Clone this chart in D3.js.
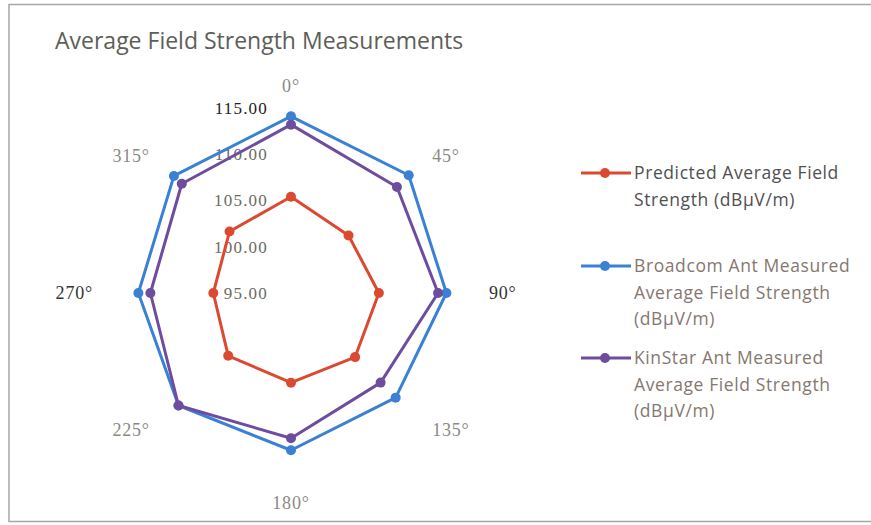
<!DOCTYPE html>
<html><head><meta charset="utf-8">
<script src="https://cdn.jsdelivr.net/npm/d3@7"></script>
<style>body{margin:0;background:#fff;}svg{display:block;}</style>
</head><body>
<svg id="c" width="871" height="525"></svg>
<script>
const angles = ["0°","45°","90°","135°","180°","225°","270°","315°"];
const tickValues = [95,100,105,110,115];
const tickLabels = ["95.00","100.00","105.00","110.00","115.00"];
const seriesNames = [
  ["Predicted Average Field","Strength (dBµV/m)"],
  ["Broadcom Ant Measured","Average Field Strength","(dBµV/m)"],
  ["KinStar Ant Measured","Average Field Strength","(dBµV/m)"]
];
const predicted = [105.4,103.8,104.5,104.8,104.7,104.6,103.4,104.4];
const broadcom  = [114.1,113.0,111.8,111.0,112.0,112.2,111.5,112.9];
const kinstar   = [113.2,111.2,110.9,108.7,110.7,112.2,110.2,111.7];
const colors = ["#db4a30","#3a80d4","#6e4c9e"];

const svg = d3.select("#c");
svg.append("rect").attr("x",9).attr("y",4.5).attr("width",880).attr("height",517)
  .attr("fill","#fff").attr("stroke","#a6a6a6").attr("stroke-width",1.5);

svg.append("text").attr("x",55).attr("y",49).text("Average Field Strength Measurements")
  .attr("font-family","Open Sans, sans-serif").attr("font-size",23)
  .attr("fill","#5e5e58");

const cx = 291, cy = 293;
const r = d3.scaleLinear().domain([95,115]).range([0,185]);
const ang = d3.scalePoint().domain(angles).range([0, 2*Math.PI*7/8]);

const g = svg.append("g").attr("transform",`translate(${cx},${cy})`);

tickValues.forEach((v,i)=>{
  g.append("text").attr("x",-23).attr("y",-r(v)).attr("dy","0.35em")
   .attr("text-anchor","end").text(tickLabels[i])
   .attr("font-family","Liberation Serif, serif").attr("font-size",17)
   .attr("letter-spacing",1.2)
   .attr("fill", v===115 ? "#222" : "#6b6b62");
});

angles.forEach(a=>{
  const t = ang(a);
  const s = Math.sin(t), c = Math.cos(t);
  const R = 194;
  let x = R*s, y = -R*c;
  let anchor = "middle";
  if (s > 0.01) { anchor = "start"; x += 4; }
  else if (s < -0.01) { anchor = "end"; x -= 4; }
  if (c > 0.99) y -= 13;
  if (c < -0.99) y += 16;
  const dark = (a==="90°"||a==="270°");
  g.append("text").attr("x",x).attr("y",y).attr("dy","0.35em")
   .attr("text-anchor",anchor).text(a)
   .attr("font-family","Liberation Serif, serif").attr("font-size",18)
   .attr("letter-spacing",0.8)
   .attr("fill", dark ? "#333" : "#8a8a82");
});

const radial = d3.lineRadial().angle((d,i)=>ang(angles[i])).radius(d=>r(d)).curve(d3.curveLinearClosed);
const all = [predicted, broadcom, kinstar];
all.forEach((s,k)=>{
  g.append("path").attr("d",radial(s)).attr("fill","none")
   .attr("stroke",colors[k]).attr("stroke-width",3).attr("stroke-linejoin","round");
  g.selectAll(null).data(s).enter().append("circle")
   .attr("cx",(d,i)=>r(d)*Math.sin(ang(angles[i])))
   .attr("cy",(d,i)=>-r(d)*Math.cos(ang(angles[i])))
   .attr("r",5).attr("fill",colors[k]);
});

const legY = [173,266,358];
seriesNames.forEach((lines,k)=>{
  const lg = svg.append("g").attr("transform",`translate(0,${legY[k]})`);
  lg.append("line").attr("x1",581).attr("x2",631).attr("y1",0).attr("y2",0)
    .attr("stroke",colors[k]).attr("stroke-width",3);
  lg.append("circle").attr("cx",605).attr("cy",0).attr("r",5).attr("fill",colors[k]);
  lines.forEach((t,j)=>{
    lg.append("text").attr("x",634).attr("y",j*26.5).attr("dy","0.35em").text(t)
      .attr("font-family","Open Sans, sans-serif").attr("font-size",17.5)
      .attr("letter-spacing",0.6)
      .attr("fill", k===0 ? "#505050" : "#857770");
  });
});
</script>
</body></html>
